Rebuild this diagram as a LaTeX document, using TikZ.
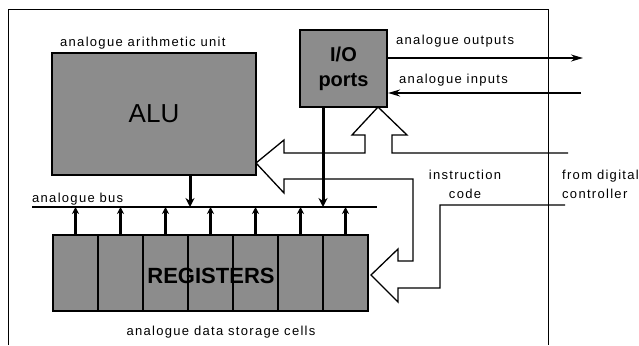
\documentclass[tikz,border=0pt]{standalone}
\usepackage{fontspec}
\setmainfont{Liberation Sans}
\newfontfamily\lblfont[LetterSpace=10]{Liberation Sans}
\usetikzlibrary{arrows.meta,calc}

\begin{document}
\begin{tikzpicture}[
    x=1pt, y=-1pt,
    box/.style={draw, line width=2.2pt, fill=black!45, inner sep=0pt},
    cell/.style={box, minimum width=45pt, minimum height=76pt},
    lbl/.style={font=\lblfont\fontsize{13}{19}\selectfont, inner sep=0pt},
    arr/.style={-{Stealth[length=9pt,width=9pt]}, line width=3pt},
    cellarr/.style={-{Stealth[length=7pt,width=7pt]}, line width=2.8pt},
    sig/.style={-{Stealth[length=12pt,width=7pt]}, line width=1.8pt},
    hollow/.style={line width=1.3pt, line join=miter}
]
\useasboundingbox (0,0) rectangle (639,345);

%% FRAME
\draw[line width=0.8pt] (8,345) -- (8,9) -- (548,9) -- (548,345);

%% ALU
\node[box, minimum width=204pt, minimum height=122pt,
      font=\fontsize{26}{30}\selectfont]
    (alu) at (154,114) {ALU};
\node[lbl, anchor=base west] (alulbl) at (60,46) {analogue arithmetic unit};

%% I/O PORTS
\node[box, minimum width=87pt, minimum height=77pt, align=center,
      font=\bfseries\fontsize{20}{25}\selectfont]
    (io) at (343.5,68.5) {I/O\\ports};

%% REGISTERS
\foreach \i in {0,...,6}
    \node[cell] (cell\i) at ({75.5+45*\i},273) {};
\node[font=\bfseries\fontsize{22}{26}\selectfont, inner sep=0pt]
    (regs) at (211,276) {REGISTERS};
\node[lbl, anchor=base] (regslbl) at (221,335) {analogue data storage cells};

%% BUS
\coordinate (busL) at (32,207);
\coordinate (busR) at (377,207);
\draw[line width=2pt] (busL) -- (busR);
\node[lbl, anchor=base west] (buslbl) at (32,202) {analogue bus};

%% ARROWS: units to bus
\coordinate (alubus) at (190,207);
\coordinate (iobus) at (323,207);
\draw[arr] (alu.south -| alubus) -- (alubus);
\draw[arr] (io.south -| iobus) -- (iobus);
\foreach \i in {0,...,6}
    \draw[cellarr] (cell\i.north) -- (cell\i.north |- busL);

%% ANALOGUE OUTPUTS / INPUTS
\coordinate (outend) at (583,58);
\coordinate (inbeg) at (581,93);
\draw[sig] (io.east |- outend) -- (outend);
\draw[sig] (inbeg) -- (io.east |- inbeg);
\node[lbl, anchor=base west] (outlbl) at (396,45) {analogue outputs};
\node[lbl, anchor=base west] (inlbl) at (399,83) {analogue inputs};

%% INSTRUCTION CODE (hollow arrows)
\draw[hollow] (568,153) -- (392,153) -- (392,135) -- (407,135) -- (378,107)
    -- (352,135) -- (365,135) -- (365,153) -- (284,153) -- (284,140)
    -- (256,163) -- (284,193) -- (284,179) -- (413,179) -- (413,261)
    -- (398,261) -- (398,249) -- (371,275) -- (398,302) -- (398,288)
    -- (440,288) -- (440,205) -- (565,205);
\node[lbl, align=center, anchor=north] (instr) at (465,170) {instruction\\code};
\node[lbl, align=left, anchor=north west] (ctrl) at (562,170) {from digital\\controller};

\end{tikzpicture}
\end{document}
